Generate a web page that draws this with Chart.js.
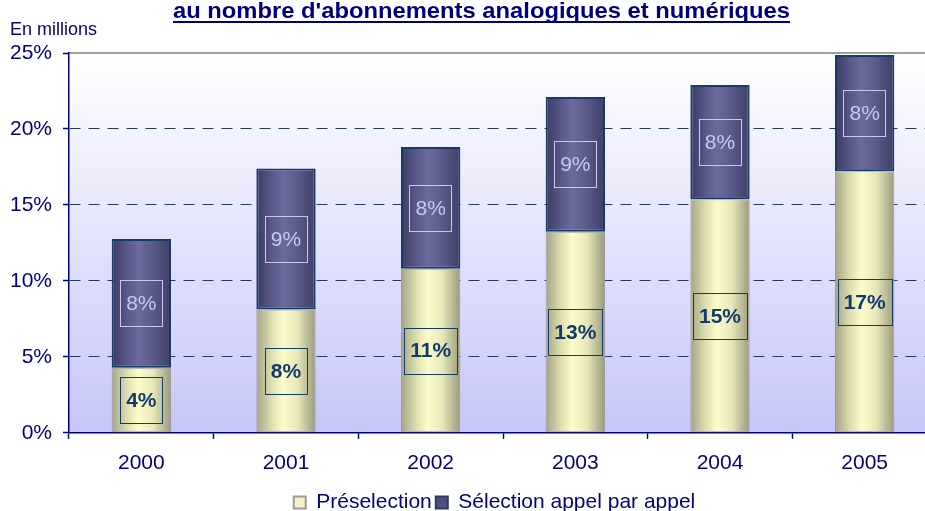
<!DOCTYPE html>
<html>
<head>
<meta charset="utf-8">
<script src="https://cdn.jsdelivr.net/npm/chart.js@4.4.1/dist/chart.umd.min.js"></script>
<style>
  html, body { margin: 0; padding: 0; background: #ffffff; overflow: hidden; }
  #wrap { position: relative; width: 990px; height: 523px; }
</style>
</head>
<body>
<div id="wrap"><canvas id="chart"></canvas></div>
<script>
// values (percent)
const years = ['2000', '2001', '2002', '2003', '2004', '2005'];
const preselection = [4.28, 8.11, 10.8, 13.24, 15.37, 17.21];
const selection = [8.48, 9.28, 8.02, 8.86, 7.52, 7.66];
const seriesNames = ['Préselection', 'Sélection appel par appel'];
const yMax = 25;
const yStep = 5;

const FONT = '"Liberation Sans", Arial, sans-serif';
const NAVY = '#000080';
const barPct = 0.41;

// cylinder-like horizontal shading for each bar
function barGradient(context, stops, solid) {
    const chart = context.chart;
    const xs = chart.scales.x;
    if (context.dataIndex === undefined || !xs || !chart.chartArea) {
        return solid;
    }
    const cx = xs.getPixelForValue(context.dataIndex);
    const half = xs.width / years.length * barPct / 2;
    const g = chart.ctx.createLinearGradient(cx - half, 0, cx + half, 0);
    stops.forEach(function(s) { g.addColorStop(s[0], s[1]); });
    return g;
}

const presStops = [[0, '#a4a484'], [0.25, '#dcdcb0'], [0.45, '#fdfdca'], [0.7, '#e6e6b8'], [1, '#9a9a7c']];
const selStops = [[0, '#3a3a62'], [0.25, '#585888'], [0.45, '#6a6a9e'], [0.7, '#5a5a8a'], [1, '#3e3e66']];

const backgroundPlugin = {
    id: 'plotBackground',
    beforeDraw(chart) {
        const a = chart.chartArea;
        const ctx = chart.ctx;
        ctx.save();
        const g = ctx.createLinearGradient(0, a.top, 0, a.bottom);
        g.addColorStop(0, '#ffffff');
        g.addColorStop(1, '#c6c6f8');
        ctx.fillStyle = g;
        ctx.fillRect(a.left, a.top, chart.width - a.left, a.bottom - a.top);
        // top border of the plot area
        ctx.strokeStyle = '#a0a0a0';
        ctx.lineWidth = 2;
        ctx.beginPath();
        ctx.moveTo(a.left, a.top);
        ctx.lineTo(chart.width, a.top);
        ctx.stroke();
        ctx.restore();
    }
};

// the legend in the original sits a little right of the plot centre
const legendShift = {
    id: 'legendShift',
    afterLayout(chart) {
        if (chart.legend) {
            chart.legend.left += 21;
            chart.legend.right += 21;
        }
    }
};

const labelPlugin = {
    id: 'barLabels',
    afterDatasetsDraw(chart) {
        const ctx = chart.ctx;
        ctx.save();
        ctx.textAlign = 'center';
        ctx.textBaseline = 'middle';
        chart.data.datasets.forEach(function(ds, di) {
            const meta = chart.getDatasetMeta(di);
            meta.data.forEach(function(bar, i) {
                const txt = Math.round(ds.data[i]) + '%';
                const cy = (bar.y + bar.base) / 2;
                let padX, color;
                if (di === 0) {
                    ctx.font = 'bold 21px ' + FONT;
                    padX = 6;
                    color = '#123a6b';
                } else {
                    ctx.font = '21px ' + FONT;
                    padX = 6;
                    color = '#c8c8f0';
                }
                const w = ctx.measureText(txt).width + padX * 2;
                const h = 46;
                ctx.strokeStyle = color;
                ctx.lineWidth = 1;
                ctx.strokeRect(Math.round(bar.x - w / 2) + 0.5, Math.round(cy - h / 2) + 0.5, Math.round(w), h);
                ctx.fillStyle = color;
                ctx.fillText(txt, bar.x, cy + 1);
            });
        });
        ctx.restore();
    }
};

const titlePlugin = {
    id: 'pageTitle',
    afterDraw(chart) {
        const ctx = chart.ctx;
        const title = "au nombre d'abonnements analogiques et numériques";
        ctx.save();
        ctx.fillStyle = NAVY;
        ctx.textBaseline = 'alphabetic';
        ctx.textAlign = 'left';
        ctx.font = 'bold 22px ' + FONT;
        // the original title is a little stretched sideways
        const sx = 617 / ctx.measureText(title).width;
        ctx.translate(173, 0);
        ctx.scale(sx, 1);
        ctx.fillText(title, 0, 18);
        ctx.fillRect(0, 21, 617 / sx, 2);
        ctx.restore();

        ctx.save();
        ctx.fillStyle = NAVY;
        ctx.font = '18px ' + FONT;
        ctx.fillText('En millions', 10, 30);
        ctx.restore();
    }
};

const ctx = document.getElementById('chart').getContext('2d');
new Chart(ctx, {
    type: 'bar',
    data: {
        labels: years,
        datasets: [
            {
                label: seriesNames[0],
                data: preselection,
                backgroundColor: function(c) { return barGradient(c, presStops, '#f0f0c0'); },
                borderColor: '#9c9c9c',
                borderWidth: 1,
                borderSkipped: false,
                barPercentage: barPct,
                categoryPercentage: 1
            },
            {
                label: seriesNames[1],
                data: selection,
                backgroundColor: function(c) { return barGradient(c, selStops, '#505080'); },
                borderColor: '#163a6a',
                borderWidth: 2,
                borderSkipped: false,
                barPercentage: barPct,
                categoryPercentage: 1
            }
        ]
    },
    options: {
        responsive: true,
        maintainAspectRatio: false,
        animation: false,
        layout: { padding: { top: 53, left: 10, right: 53, bottom: 0 } },
        scales: {
            x: {
                stacked: true,
                grid: { drawOnChartArea: false, drawTicks: true, tickLength: 6, tickColor: NAVY, tickWidth: 1.5 },
                border: { color: NAVY, width: 1.5 },
                ticks: { color: NAVY, font: { family: FONT, size: 21 }, padding: 12 }
            },
            y: {
                stacked: true,
                min: 0,
                max: yMax,
                afterFit: function(scale) { scale.width = 59; },
                ticks: {
                    stepSize: yStep,
                    color: NAVY,
                    font: { family: FONT, size: 21 },
                    padding: 11,
                    callback: function(v) { return v + '%'; }
                },
                grid: {
                    color: function(c) {
                        if (!c.tick || c.tick.value === 0 || c.tick.value === yMax) return 'rgba(0,0,0,0)';
                        return '#1f3a6e';
                    },
                    lineWidth: 1,
                    tickLength: 6,
                    tickColor: NAVY,
                    tickWidth: 1.5
                },
                border: { color: NAVY, width: 1.5, dash: [11, 8] }
            }
        },
        plugins: {
            legend: {
                position: 'bottom',
                labels: {
                    color: NAVY,
                    font: { family: FONT, size: 21 },
                    boxWidth: 12,
                    boxHeight: 12,
                    padding: 4,
                    generateLabels: function(chart) {
                        return [
                            { text: seriesNames[0], fillStyle: '#f2f2c4', strokeStyle: '#9a9a9a', lineWidth: 2, datasetIndex: 0, fontColor: NAVY },
                            { text: seriesNames[1], fillStyle: '#50507e', strokeStyle: '#2a3a66', lineWidth: 2, datasetIndex: 1, fontColor: NAVY }
                        ];
                    }
                }
            },
            tooltip: { enabled: false }
        }
    },
    plugins: [backgroundPlugin, legendShift, labelPlugin, titlePlugin]
});
</script>
</body>
</html>
